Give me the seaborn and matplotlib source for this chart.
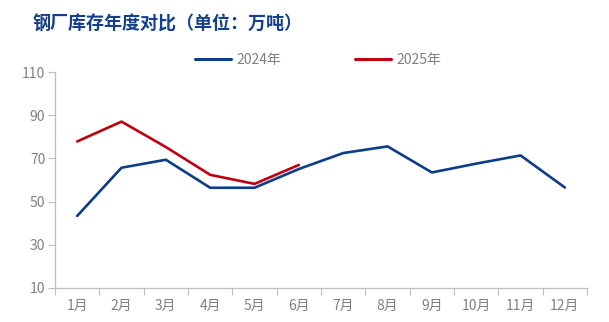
import matplotlib
matplotlib.use("Agg")
import matplotlib.pyplot as plt
import seaborn as sns
import pandas as pd

months = ["1月", "2月", "3月", "4月", "5月", "6月", "7月", "8月", "9月", "10月", "11月", "12月"]
v2024 = [43.3, 65.7, 69.4, 56.4, 56.4, 65.1, 72.5, 75.6, 63.5, 67.6, 71.4, 56.5]
v2025 = [77.9, 87.1, 75.3, 62.4, 58.2, 67.0]
series_names = ["2024年", "2025年"]
yticks = [10, 30, 50, 70, 90, 110]

sns.set_theme(style="white")
plt.rcParams['font.family'] = ['Noto Sans CJK SC', 'DejaVu Sans']

rows = []
for i, v in enumerate(v2024):
    rows.append({"idx": i, "value": v, "series": series_names[0]})
for i, v in enumerate(v2025):
    rows.append({"idx": i, "value": v, "series": series_names[1]})
df = pd.DataFrame(rows)

fig = plt.figure(figsize=(6.09, 3.22), dpi=100)
ax = fig.add_axes([0.0903, 0.1065, 0.8737, 0.669])

palette = {series_names[0]: "#0d3c8a", series_names[1]: "#c00010"}
sns.lineplot(data=df, x="idx", y="value", hue="series", palette=palette,
             linewidth=1.9, ax=ax, legend=True)

gray = "#808080"
spine = "#bfbfbf"
ax.set_xlim(-0.5, 11.5)
ax.set_ylim(10, 110)
ax.set_yticks(yticks)
ax.set_yticklabels([str(t) for t in yticks])
ax.set_xticks(range(len(months)))
ax.set_xticklabels(months)
ax.set_xticks([i - 0.5 for i in range(len(months) + 1)], minor=True)
ax.tick_params(axis="x", which="major", length=0, pad=8, labelsize=10, labelcolor=gray)
ax.tick_params(axis="x", which="minor", length=5, width=0.8, color=spine, direction="out", bottom=True)
ax.tick_params(axis="y", which="major", length=5, width=0.8, color=spine, direction="out", left=True,
               labelsize=10, labelcolor=gray, pad=2)
ax.set_xlabel("")
ax.set_ylabel("")
for s in ["top", "right"]:
    ax.spines[s].set_visible(False)
for s in ["left", "bottom"]:
    ax.spines[s].set_color(spine)
    ax.spines[s].set_linewidth(0.9)

handles, labels = ax.get_legend_handles_labels()
ax.legend(handles, labels, loc="center", bbox_to_anchor=(0.522, 0.814),
          bbox_transform=fig.transFigure, ncol=2, frameon=False,
          fontsize=10, labelcolor=gray, handlelength=2.6, handletextpad=0.4,
          columnspacing=5.3)
for line in ax.get_legend().get_lines():
    line.set_linewidth(2.2)

fig.text(0.054, 0.926, "钢厂库存年度对比（单位：万吨）", fontsize=13, fontweight="bold",
         color="#143f8c", ha="left", va="center")

fig.savefig("out.png", dpi=100)
